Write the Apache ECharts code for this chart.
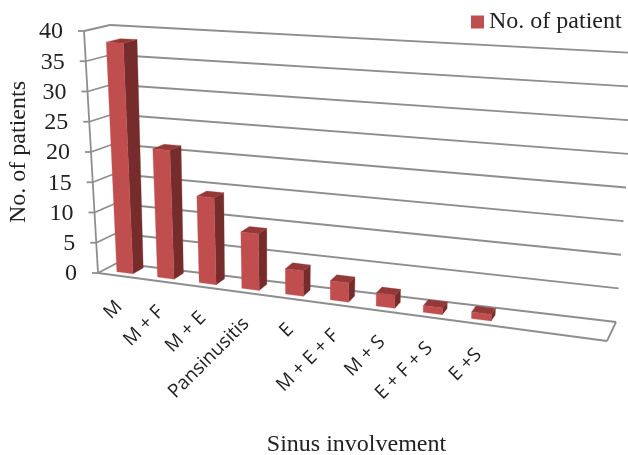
<!DOCTYPE html>
<html lang="en">
<head>
<meta charset="UTF-8">
<title>Sinus involvement</title>
<script src="https://cdnjs.cloudflare.com/ajax/libs/echarts/6.0.0/echarts.min.js"></script>
<style>html,body{margin:0;padding:0;background:#fff}</style>
</head>
<body>
<div id="main" style="width:628px;height:455px;"></div>
<script>
const categories = ['M', 'M + F', 'M + E', 'Pansinusitis', 'E', 'M + E + F', 'M + S', 'E + F + S', 'E +S'];
const patients = [38, 21, 14, 9, 4, 3, 2, 1, 1];
const yTicks = [0, 5, 10, 15, 20, 25, 30, 35, 40];
const seriesName = 'No. of patient';

// corners of the tilted box, [u][v][z]: u along floor, v height, z depth
const box = {
  f0l: [98, 273], f0r: [607, 341], b0l: [117, 263], b0r: [616, 322],
  f1l: [84, 31], f1r: [621, 67], b1l: [110, 25], b1r: [636, 53]
};
const lerp = (a, b, t) => [a[0] + (b[0] - a[0]) * t, a[1] + (b[1] - a[1]) * t];
function project(u, v, z) {
  const front = lerp(lerp(box.f0l, box.f0r, u), lerp(box.f1l, box.f1r, u), v);
  const back = lerp(lerp(box.b0l, box.b0r, u), lerp(box.b1l, box.b1r, u), v);
  return lerp(front, back, z);
}
// category spacing widens towards the viewer
const warp = i => 0.042 + 0.0801 * i / (1 - 0.01146 * i);

const lineStyle = { stroke: '#8e8e8e', lineWidth: 1.8, fill: null };
const seg = (a, b) => ({ type: 'line', shape: { x1: a[0], y1: a[1], x2: b[0], y2: b[1] }, style: lineStyle });
const poly = (points, fill) => ({ type: 'polygon', shape: { points: points }, style: { fill: fill, stroke: fill, lineWidth: 0.3 } });

function heightOf(params, api, value) {
  const cs = params.coordSys;
  return (cs.y + cs.height - api.coord([0, value])[1]) / cs.height;
}

function renderFrame(params, api) {
  const tick = api.value(1);
  const v = heightOf(params, api, tick);
  const p = project(0, v, 0);
  const kids = [
    seg([p[0] - 6, p[1]], p),
    seg(p, project(0, v, 1)),
    seg(project(0, v, 1), project(1, v, 1)),
    { type: 'text', style: { text: String(tick), x: p[0] - 21, y: p[1] + 1, align: 'right', verticalAlign: 'middle', font: '24px "Liberation Serif"', fill: '#222' } }
  ];
  if (tick === 0) {
    kids.push(seg(project(0, 0, 0), project(1, 0, 0)));
    kids.push(seg(project(1, 0, 0), project(1, 0, 1)));
    kids.push(seg(project(0, 0, 0), project(0, 1, 0)));
  }
  return { type: 'group', children: kids };
}

function renderBar(params, api) {
  const i = api.value(0);
  const v = heightOf(params, api, api.value(1));
  const u0 = warp(i - 0.2), u1 = warp(i + 0.2);
  const zf = 0.3 - 0.06 * i / 8, zb = 0.85 - 0.25 * i / 8;
  const base = project(warp(i), 0, 0);
  return {
    type: 'group',
    children: [
      poly([project(u1, 0, zf), project(u1, 0, zb), project(u1, v, zb), project(u1, v, zf)], '#772c2c'),
      poly([project(u0, v, zf), project(u1, v, zf), project(u1, v, zb), project(u0, v, zb)], '#953838'),
      poly([project(u0, 0, zf), project(u1, 0, zf), project(u1, v, zf), project(u0, v, zf)], '#c04e4e'),
      {
        type: 'text', x: base[0], y: base[1] + 28, rotation: Math.PI / 4,
        style: { text: categories[i], x: 0, y: 0, align: 'right', verticalAlign: 'middle', font: '19px "Open Sans"', fill: '#222' }
      }
    ]
  };
}

const myChart = echarts.init(document.getElementById('main'));
const option = {
  animation: false,
  backgroundColor: '#fff',
  legend: {
    data: [{ name: seriesName, icon: 'rect', itemStyle: { color: '#c04e4e' } }],
    left: 471, top: 10, padding: 0, itemWidth: 13, itemHeight: 13, itemGap: 6,
    textStyle: { fontFamily: 'Liberation Serif', fontSize: 24, color: '#222', padding: [0, 0, 0, 0] }
  },
  grid: { left: 97, top: 31, width: 519, height: 242, outerBoundsMode: 'none' },
  xAxis: {
    type: 'category', data: categories,
    name: 'Sinus involvement', nameLocation: 'middle', nameGap: 160,
    nameTextStyle: { fontFamily: 'Liberation Serif', fontSize: 24, color: '#222' },
    axisLine: { show: false }, axisTick: { show: false }, axisLabel: { show: false }, splitLine: { show: false }
  },
  yAxis: {
    type: 'value', min: 0, max: 40, interval: 5,
    name: 'No. of patients', nameLocation: 'middle', nameGap: 66,
    nameTextStyle: { fontFamily: 'Liberation Serif', fontSize: 24, color: '#222' },
    axisLine: { show: false }, axisTick: { show: false }, axisLabel: { show: false }, splitLine: { show: false }
  },
  series: [
    {
      type: 'custom', name: 'frame', silent: true, clip: false, z: 1,
      renderItem: renderFrame,
      data: yTicks.map(t => [0, t]),
      encode: { x: 0, y: 1 }
    },
    {
      type: 'custom', name: seriesName, clip: false, z: 2,
      renderItem: renderBar,
      itemStyle: { color: '#c04e4e' },
      data: patients.map((p, i) => [i, p]),
      encode: { x: 0, y: 1 }
    }
  ]
};
myChart.setOption(option);
</script>
</body>
</html>
